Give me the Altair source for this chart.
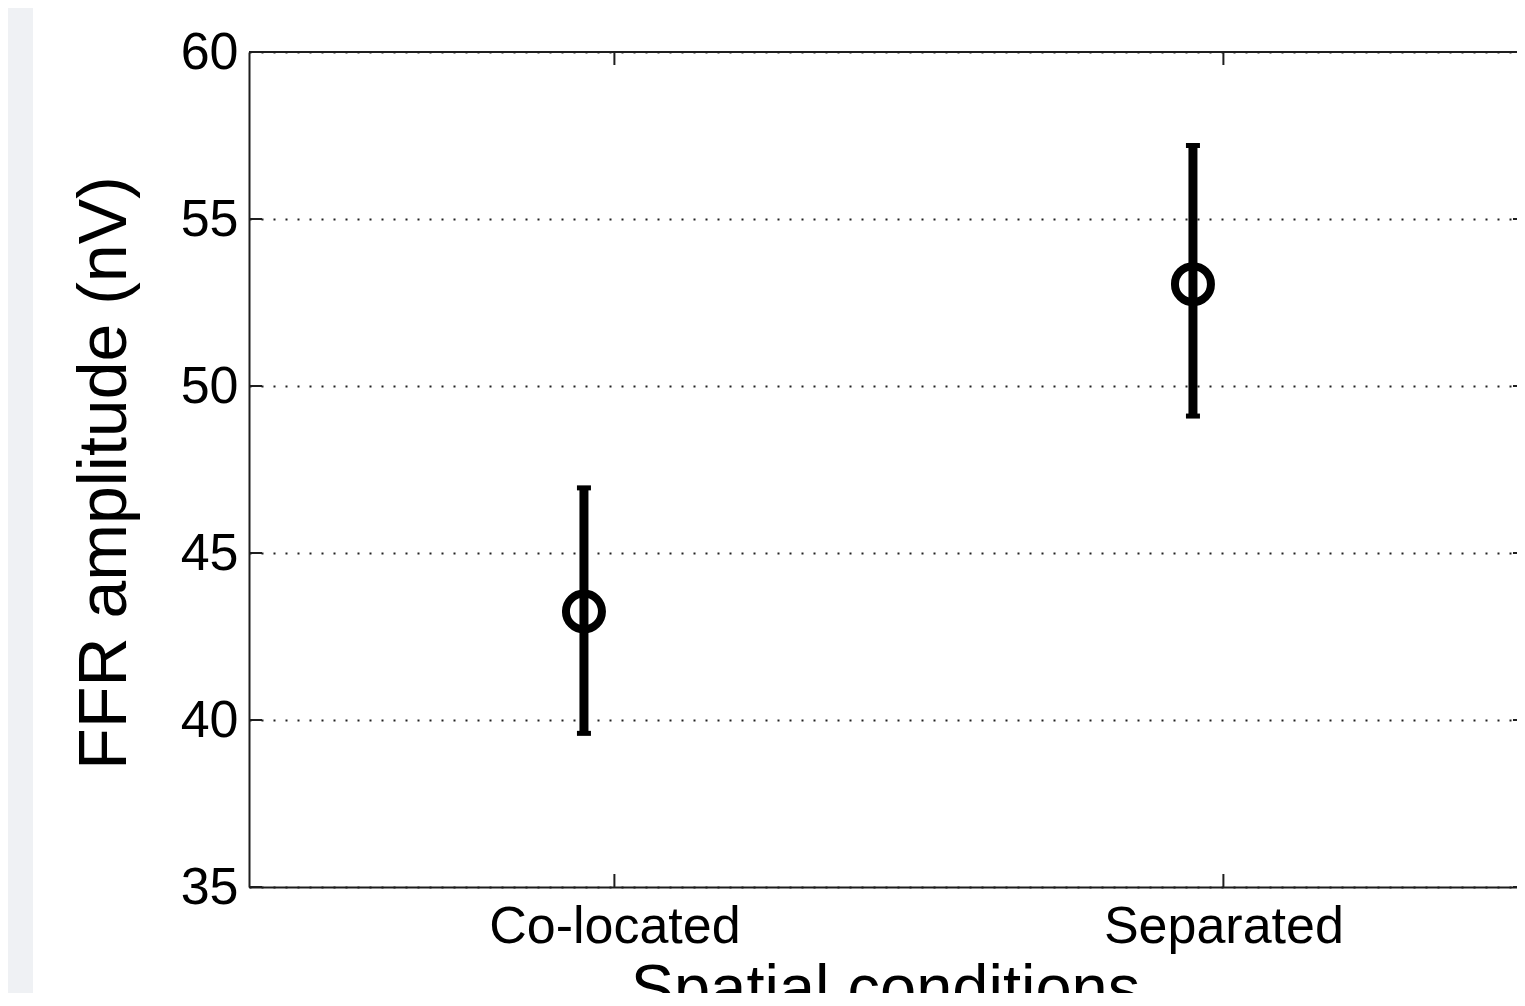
import json
import altair as alt
import pandas as pd

# ---- data ----
categories = ["Co-located", "Separated"]
means = [43.25, 53.05]
lower = [39.6, 49.1]
upper = [46.95, 57.2]
y_ticks = [35, 40, 45, 50, 55, 60]
x_ticks = [1, 2]

# svg must fit the 1525x1006 window with the 8px page margin
W, H = 1268, 835
PAD = {"left": 241, "top": 44, "right": 0, "bottom": 106}
X_MAX = 0.4 + W / 609.0   # axis continues past the visible right edge
FONT = "Liberation Sans"
INK = "#1e1e1e"

df = pd.DataFrame({
    "cond": categories,
    "pos": [i + 1 for i in range(len(categories))],
    "mean": means,
    "lo": lower,
    "hi": upper,
})
yt = pd.DataFrame({"v": y_ticks})
xt = pd.DataFrame({"v": x_ticks})

x_scale = alt.Scale(domain=[0.4, X_MAX], nice=False, zero=False)
y_scale = alt.Scale(domain=[35, 60], nice=False, zero=False)

x_axis = alt.Axis(
    values=x_ticks,
    labelExpr=f"{json.dumps(categories)}[datum.value - 1]",
    title="Spatial conditions",
    grid=False, domain=True, domainColor=INK, domainWidth=2,
    ticks=False, tickSize=0,
    labelFont=FONT, labelFontSize=52, labelColor="black", labelLimit=0,
    labelBaseline="alphabetic", labelPadding=55,
    labelFlush=False, labelOverlap=False,
    titleFont=FONT, titleFontSize=65, titleFontWeight="normal", titleColor="black",
    titleBaseline="alphabetic", titleY=122, titleX=636, titleLimit=0,
)
y_axis = alt.Axis(
    values=y_ticks,
    title="FFR amplitude (nV)",
    grid=True, gridDash=[2, 10], gridColor="#222222", gridWidth=2,
    domain=True, domainColor=INK, domainWidth=2,
    ticks=False, tickSize=0,
    labelFont=FONT, labelFontSize=52, labelColor="black", labelLimit=0,
    labelPadding=11, labelFlush=False, labelOverlap=False, labelBaseline="middle",
    titleFont=FONT, titleFontSize=68, titleFontWeight="normal", titleColor="black",
    titleBaseline="alphabetic", titleAngle=270, titleX=-124, titleY=H / 2 + 3,
    titleLimit=0,
)

X = lambda f: alt.X(f, scale=x_scale, axis=x_axis)
Y = lambda f: alt.Y(f, scale=y_scale, axis=y_axis)

base = alt.Chart(df).transform_calculate(xp="datum.pos - 0.05")

strip = alt.Chart(pd.DataFrame({"a": [0]})).mark_rect(color="#eff1f4").encode(
    x=alt.value(-PAD["left"]), x2=alt.value(-216),
    y=alt.value(-PAD["top"]), y2=alt.value(H + PAD["bottom"]),
)
top_border = alt.Chart(pd.DataFrame({"a": [0]})).mark_rule(
    strokeWidth=2, color=INK
).encode(x=alt.value(0), x2=alt.value(W), y=alt.value(0))

bars = base.mark_rule(strokeWidth=9, color="black").encode(
    x=X("xp:Q"), y=Y("lo:Q"), y2="hi:Q"
)
caps = base.transform_fold(["lo", "hi"], as_=["k", "val"]).mark_tick(
    orient="horizontal", size=14, thickness=5, color="black", opacity=1
).encode(x=X("xp:Q"), y=Y("val:Q"))
circles = base.mark_point(
    shape="circle", filled=False, size=1296, strokeWidth=8, color="black", opacity=1
).encode(x=X("xp:Q"), y=Y("mean:Q"))

ytick_l = alt.Chart(yt).mark_rule(strokeWidth=2, color=INK).encode(
    y=Y("v:Q"), x=alt.value(0), x2=alt.value(13)
)
ytick_r = alt.Chart(yt).mark_rule(strokeWidth=2, color=INK).encode(
    y=Y("v:Q"), x=alt.value(W - 4), x2=alt.value(W)
)
xtick_b = alt.Chart(xt).mark_rule(strokeWidth=2, color=INK).encode(
    x=X("v:Q"), y=alt.value(H), y2=alt.value(H - 13)
)
xtick_t = alt.Chart(xt).mark_rule(strokeWidth=2, color=INK).encode(
    x=X("v:Q"), y=alt.value(0), y2=alt.value(13)
)

chart = alt.layer(
    strip, top_border, ytick_l, ytick_r, xtick_b, xtick_t, bars, caps, circles
).properties(
    width=W, height=H,
    autosize=alt.AutoSizeParams(type="none"),
    padding=PAD,
    background="white",
).configure_view(stroke="transparent", strokeWidth=0)

chart.save("out.html", embed_options={"renderer": "svg", "actions": False})
